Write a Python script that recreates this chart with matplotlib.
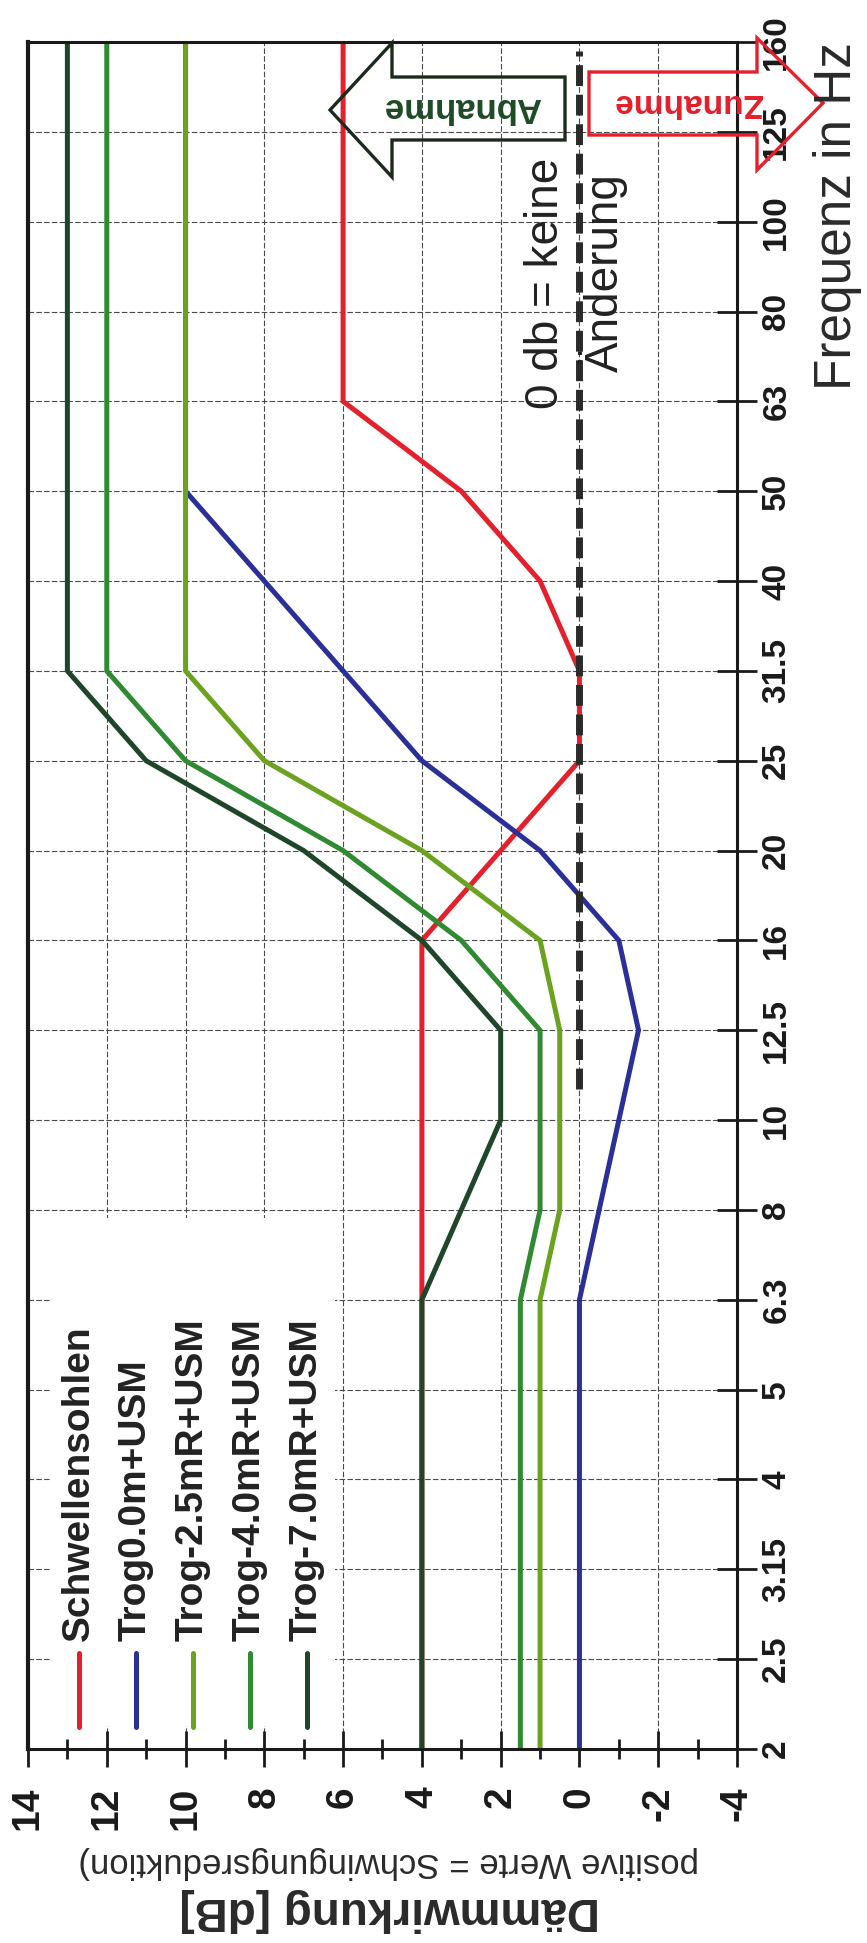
import numpy as np
import matplotlib
matplotlib.use("Agg")
import matplotlib.pyplot as plt
from matplotlib.lines import Line2D
from matplotlib.patches import Polygon, Rectangle

plt.rcParams['font.family'] = ['Liberation Sans', 'DejaVu Sans']
plt.rcParams['xtick.labelsize'] = 28
plt.rcParams['ytick.labelsize'] = 24

# ---------------- data ----------------
freqs = ["2", "2.5", "3.15", "4", "5", "6.3", "8", "10", "12.5", "16",
         "20", "25", "31.5", "40", "50", "63", "80", "100", "125", "160"]
schwellensohlen = [4, 4, 4, 4, 4, 4, 4, 4, 4, 4, 2, 0, 0, 1, 3, 6, 6, 6, 6, 6]
trog_00 = [0, 0, 0, 0, 0, 0, -0.5, -1, -1.5, -1, 1, 4, 6, 8, 10, 10, 10, 10, 10, 10]
trog_25 = [1, 1, 1, 1, 1, 1, 0.5, 0.5, 0.5, 1, 4, 8, 10, 10, 10, 10, 10, 10, 10, 10]
trog_40 = [1.5, 1.5, 1.5, 1.5, 1.5, 1.5, 1, 1, 1, 3, 6, 10, 12, 12, 12, 12, 12, 12, 12, 12]
trog_70 = [4, 4, 4, 4, 4, 4, 3, 2, 2, 4, 7, 11, 13, 13, 13, 13, 13, 13, 13, 13]

series_labels = ["Schwellensohlen", "Trog0.0m+USM", "Trog-2.5mR+USM",
                 "Trog-4.0mR+USM", "Trog-7.0mR+USM"]
series_values = [schwellensohlen, trog_00, trog_25, trog_40, trog_70]
series_colors = ["#e5202d", "#2b2f98", "#6ba321", "#2f8a31", "#1f4629"]

db_ticks = [-4, -2, 0, 2, 4, 6, 8, 10, 12, 14]
zero_line_span = [7.35, 18.9]   # extent of the "0 dB" reference line (category index)

# ---------------- figure ----------------
W, H = 867, 1943
fig = plt.figure(figsize=(W / 100, H / 100), dpi=100)


def fx(px):
    return px / W


def fy(py):
    return 1 - py / H


ax = fig.add_axes([fx(28), fy(1749), (737 - 28) / W, (1749 - 42) / H])

idx = np.arange(len(freqs))
for k, (vals, col) in enumerate(zip(series_values, series_colors)):
    ax.plot(vals, idx, color=col, lw=3.6, zorder=2 + 0.01 * k,
            solid_joinstyle='miter', solid_capstyle='butt')

# 0 dB reference line
ax.plot([0, 0], zero_line_span, color='#2a2a2a', lw=5, dashes=(3.0, 1.25),
        dash_capstyle='butt', zorder=4)

ax.set_xlim(14, -4)
ax.set_ylim(0, len(freqs) - 1)

ax.set_xticks(db_ticks)
ax.set_xticklabels([str(t) for t in db_ticks], fontsize=28, fontweight='bold')
ax.set_xticks(np.arange(-3, 14, 2), minor=True)
ax.tick_params(axis='x', which='major', direction='inout', length=26, width=2,
               pad=14, labelrotation=90, colors='#1a1a1a', labelsize=28)
ax.tick_params(axis='x', which='minor', direction='inout', length=14, width=2,
               colors='#1a1a1a')

ax.yaxis.tick_right()
ax.set_yticks(idx)
ax.set_yticklabels(freqs, fontsize=24, fontweight='bold', va='center')
ax.tick_params(axis='y', which='major', direction='inout', length=29, width=2,
               pad=3, labelrotation=90, colors='#1a1a1a', labelsize=24)

ax.grid(True, which='major', color='#4a4a4a', lw=0.8, ls=(0, (5, 2)))

for side in ['top', 'right', 'bottom']:
    ax.spines[side].set_linewidth(2.2)
    ax.spines[side].set_color('#1a1a1a')
ax.spines['left'].set_linewidth(3.0)
ax.spines['left'].set_color('#1a1a1a')

# white legend background (hides grid)
bg = Rectangle((fx(50), fy(1726)), (335 - 50) / W, (1726 - 1218) / H,
               transform=fig.transFigure, facecolor='white', edgecolor='none',
               zorder=1.8)
bg.set_clip_on(False)
ax.add_patch(bg)

# legend (rotated)
leg_x = [79, 136, 193, 250, 307]
for px, lab, col in zip(leg_x, series_labels, series_colors):
    fig.add_artist(Line2D([fx(px), fx(px)], [fy(1727), fy(1653)],
                          transform=fig.transFigure, color=col, lw=3.6,
                          solid_capstyle='round', zorder=3))
    fig.text(fx(px), fy(1641), lab, rotation=90, ha='center', va='bottom',
             fontsize=28, fontweight='bold', color='#222222', zorder=3)

# arrows
abn = [(330, 110), (392, 43), (392, 77), (565, 77), (565, 140), (392, 140), (392, 177)]
zun = [(589, 72), (757, 72), (757, 38), (823, 103), (757, 170), (757, 135), (589, 135)]
fig.add_artist(Polygon([(fx(a), fy(b)) for a, b in abn], closed=True, fill=False,
                       edgecolor='#1c2a1c', lw=2.4, transform=fig.transFigure,
                       joinstyle='miter', zorder=3))
fig.add_artist(Polygon([(fx(a), fy(b)) for a, b in zun], closed=True, fill=False,
                       edgecolor='#e3202c', lw=2.4, transform=fig.transFigure,
                       joinstyle='miter', zorder=3))
fig.text(fx(462), fy(108), "Abnahme", rotation=180, ha='center', va='center',
         fontsize=25, fontweight='bold', color='#1f4a26', zorder=4)
fig.text(fx(688), fy(103), "Zunahme", rotation=180, ha='center', va='center',
         fontsize=24, fontweight='bold', color='#e3202c', zorder=4)

# annotation of 0 dB line
fig.text(fx(546), fy(283), "0 db = keine", rotation=90, ha='center', va='center',
         fontsize=33, color='#222222')
fig.text(fx(603), fy(273), "Änderung", rotation=90, ha='center', va='center',
         fontsize=33, color='#222222')

# axis titles
fig.text(fx(838), fy(216), "Frequenz in Hz", rotation=90, ha='center', va='center',
         fontsize=37, color='#2a2a2a')
fig.text(fx(390), fy(1910), "Dämmwirkung [dB]", rotation=180, ha='center',
         va='center', fontsize=33, fontweight='bold', color='#2a2a2a')
fig.text(fx(389), fy(1862), "positive Werte = Schwingungsreduktion)", rotation=180,
         ha='center', va='center', fontsize=25, color='#2a2a2a',
         family=['Liberation Sans Narrow', 'Liberation Sans', 'DejaVu Sans'])

fig.savefig("out.png", dpi=100)
